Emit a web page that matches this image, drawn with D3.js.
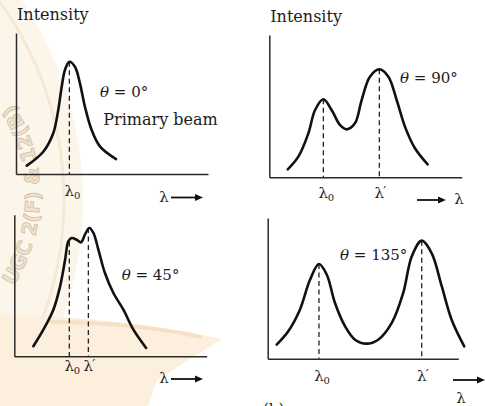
<!DOCTYPE html>
<html>
<head>
<meta charset="utf-8">
<script src="https://cdn.jsdelivr.net/npm/d3@7"></script>
<style>
  body { margin: 0; background: #fff; }
  svg { display: block; }
  text { font-family: "DejaVu Serif", "Liberation Serif", serif; fill: #1c1c1c; }
</style>
</head>
<body>
<script>

// scattered intensity vs wavelength, four scattering angles
// wavelength and intensity are in arbitrary units 0..100 along each axis
var angleLabels = ["θ = 0°", "θ = 90°", "θ = 45°", "θ = 135°"];

var lambda0deg = [5.6, 14.2, 19.4, 22.0, 23.8, 25.5, 27.8, 30.7, 33.3, 35.9, 39.4, 43.8, 52.1];
var intens0deg = [5.9, 15.8, 28.9, 45.4, 61.9, 73.8, 79.6, 76.1, 64.3, 47.7, 31.2, 19.4, 10.6];

var lambda90deg = [9.6, 15.1, 20.3, 23.8, 28.1, 32.4, 36.7, 40.2, 44.5, 48.0, 52.3, 57.2, 61.9, 66.2, 70.5, 75.7, 82.3];
var intens90deg = [5.6, 14.5, 30.9, 47.3, 54.8, 47.3, 36.8, 33.7, 37.9, 54.3, 70.7, 75.9, 70.7, 54.3, 35.6, 20.4, 9.1];

var lambda45deg = [9.9, 15.1, 20.3, 23.8, 26.4, 28.1, 29.8, 32.4, 34.7, 36.7, 39.0, 41.1, 43.7, 47.1, 51.5, 56.7, 61.9, 68.5];
var intens45deg = [7.1, 18.8, 32.9, 49.4, 68.2, 81.2, 83.5, 82.3, 80.5, 85.9, 90.6, 87.1, 75.3, 58.8, 44.7, 32.9, 18.8, 5.9];

var lambda135deg = [4.7, 10.8, 16.9, 22.2, 26.9, 31.0, 35.3, 40.6, 45.8, 51.9, 58.0, 65.1, 71.1, 75.6, 80.8, 86.0, 91.3, 96.5, 103.1];
var intens135deg = [10.0, 19.5, 34.8, 56.1, 67.3, 59.7, 39.6, 23.0, 13.5, 10.7, 13.5, 25.4, 46.7, 72.8, 83.9, 75.1, 51.5, 27.7, 8.8];

// marked wavelengths (dashed lines) and their tick labels
var peakLambda = [[27.8], [28.1, 57.2], [28.6, 38.5], [26.9, 80.8]];
var peakIntens = [[79.6], [54.8, 75.9], [81.0, 90.6], [67.3, 83.9]];
var peakMarks  = [["0"], ["0", "′"], ["0", "′"], ["0", "′"]];

var curves = [
  [lambda0deg, intens0deg],
  [lambda90deg, intens90deg],
  [lambda45deg, intens45deg],
  [lambda135deg, intens135deg]
];

// layout of the four small plots (pixels)
var boxes = [
  {left: 16,    right: 208,   base: 174,   top: 33,    ylab: 20,   th: [100, 96.7],    tickY: 196, arrow: [171, 203, 197.5], lamX: 164, lamY: 202},
  {left: 269.3, right: 461.7, base: 177.3, top: 35,    ylab: 21.7, th: [400, 82.7],    tickY: 198, arrow: [417, 446, 200],   lamX: 459, lamY: 204},
  {left: 14.3,  right: 206.7, base: 356.3, top: 214.7, ylab: null, th: [121.7, 279.7], tickY: 371, arrow: [171, 203, 379],   lamX: 164, lamY: 383},
  {left: 267.7, right: 458.3, base: 358.7, top: 218,   ylab: null, th: [340, 259.7],   tickY: 381, arrow: [453, 485, 380],   lamX: 461, lamY: 403}
];

var W = 485, H = 406;
var svg = d3.select("body").append("svg").attr("width", W).attr("height", H);

// faint watermark behind the plots
var wm = svg.append("g");
wm.append("circle").attr("cx", -274).attr("cy", 200).attr("r", 357).attr("fill", "#fcf5ea");
wm.append("circle").attr("cx", -274).attr("cy", 200).attr("r", 338)
  .attr("fill", "none").attr("stroke", "#f5e9d6").attr("stroke-width", 3);
wm.append("path")
  .attr("d", "M0,315 Q110,316 222,339 L157,380 L148,406 L0,406 Z")
  .attr("fill", "#fcefdd");
wm.append("path")
  .attr("d", "M50,322 Q130,322 202,337")
  .attr("fill", "none").attr("stroke", "#f6e1c6").attr("stroke-width", 4);
wm.append("path").attr("id", "wmArc")
  .attr("d", "M0.2,304.3 A170,170 0 0 0 0.2,85.7").attr("fill", "none");
wm.append("text")
  .style("font-family", "DejaVu Sans")
  .style("font-weight", "bold")
  .style("font-size", "20px")
  .style("fill", "#efe3d2")
  .style("stroke", "#d3bfa3")
  .style("stroke-width", 0.8)
  .append("textPath").attr("href", "#wmArc")
  .attr("startOffset", "50%").attr("text-anchor", "middle")
  .text("UGC 2(F) & 12(B)");

var line = d3.line().curve(d3.curveCatmullRom.alpha(0.5));

function drawPanel(i){
  var b = boxes[i];
  var x = d3.scaleLinear().domain([0, 100]).range([b.left, b.right]);
  var y = d3.scaleLinear().domain([0, 100]).range([b.base, b.top]);
  var g = svg.append("g");

  // bare axes, no ticks
  g.append("g").attr("transform", "translate(0," + b.base + ")")
    .call(d3.axisBottom(x).ticks(0).tickSizeOuter(0))
    .select(".domain").attr("stroke", "#2a2a2a").attr("stroke-width", 1.5);
  g.append("g").attr("transform", "translate(" + b.left + ",0)")
    .call(d3.axisLeft(y).ticks(0).tickSizeOuter(0))
    .select(".domain").attr("stroke", "#2a2a2a").attr("stroke-width", 1.5);

  // dashed markers
  for (var k = 0; k < peakLambda[i].length; k++){
    var px = x(peakLambda[i][k]);
    g.append("line")
      .attr("x1", px).attr("x2", px)
      .attr("y1", y(peakIntens[i][k])).attr("y2", y(0))
      .attr("stroke", "#222").attr("stroke-width", 1.3)
      .attr("stroke-dasharray", "5,3.5");
    g.append("text").attr("x", px).attr("y", b.tickY)
      .attr("text-anchor", "middle").style("font-size", "15px").text("λ");
    if (peakMarks[i][k] == "0"){
      g.append("text").attr("x", px + 4.5).attr("y", b.tickY + 2.5)
        .style("font-size", "10px").text("0");
    } else {
      g.append("text").attr("x", px + 4).attr("y", b.tickY - 2)
        .style("font-size", "13px").text("′");
    }
  }

  // curve
  var pts = curves[i][0].map(function(v, j){ return [x(v), y(curves[i][1][j])]; });
  g.append("path").attr("d", line(pts))
    .attr("fill", "none").attr("stroke", "#111").attr("stroke-width", 2.6)
    .attr("stroke-linecap", "round");

  // angle label
  var th = g.append("text").attr("x", b.th[0]).attr("y", b.th[1]).style("font-size", "15px");
  th.append("tspan").style("font-style", "italic").text(angleLabels[i].slice(0, 1));
  th.append("tspan").text(angleLabels[i].slice(1));

  if (b.ylab != null){
    g.append("text").attr("x", b.left + 1).attr("y", b.ylab).style("font-size", "16px").text("Intensity");
  }

  // wavelength arrow
  var a = b.arrow;
  g.append("line").attr("x1", a[0]).attr("x2", a[1] - 6).attr("y1", a[2]).attr("y2", a[2])
    .attr("stroke", "#111").attr("stroke-width", 1.8);
  g.append("path")
    .attr("d", "M" + a[1] + "," + a[2] + " L" + (a[1] - 8) + "," + (a[2] - 3.5) + " L" + (a[1] - 8) + "," + (a[2] + 3.5) + " Z")
    .attr("fill", "#111");
  g.append("text").attr("x", b.lamX).attr("y", b.lamY).attr("text-anchor", "middle")
    .style("font-size", "15px").text("λ");
}

for (var i = 0; i < boxes.length; i++){
  drawPanel(i);
}

// first panel note
svg.append("text").attr("x", 103.3).attr("y", 125).style("font-size", "16px").text("Primary beam");

// caption, cut off at the bottom edge as in the source picture
svg.append("text").attr("x", 263).attr("y", 414).style("font-size", "15px").text("(b)");

</script>
</body>
</html>
